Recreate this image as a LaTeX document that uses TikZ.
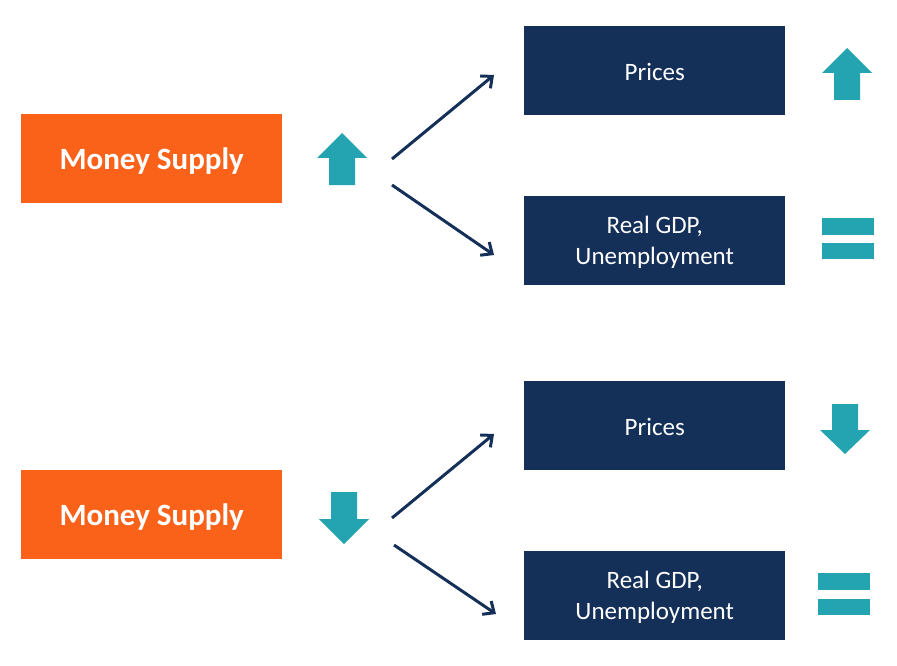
\documentclass[tikz,border=0pt]{standalone}
\usepackage{fontspec}
\setmainfont{Carlito}
\usetikzlibrary{arrows.meta}
\definecolor{ms}{RGB}{250,97,25}
\definecolor{nv}{RGB}{20,48,88}
\definecolor{tl}{RGB}{35,164,176}
\tikzset{
  box/.style={minimum width=261pt, minimum height=89pt, inner sep=0pt, anchor=north west},
  msbox/.style={box, fill=ms},
  nvbox/.style={box, fill=nv},
  mstext/.style={text=white, inner sep=0pt, font=\fontsize{31}{37}\selectfont\bfseries},
  nvtext/.style={text=white, inner sep=0pt, align=center, font=\fontsize{25}{31}\selectfont},
  conn/.style={draw=nv, line width=3pt, -{Straight Barb[length=9pt,width=16pt,line width=3pt]}},
  ind/.style={fill=tl}
}
\begin{document}
\begin{tikzpicture}[x=1pt,y=-1pt]
\useasboundingbox (0,0) rectangle (897,666);
% boxes
\node[msbox] (ms1) at (21,114) {};
\node[msbox] (ms2) at (21,470) {};
\node[nvbox] (p1) at (524,26) {};
\node[nvbox] (g1) at (524,196) {};
\node[nvbox] (p2) at (524,381) {};
\node[nvbox] (g2) at (524,551) {};
\node[mstext] (ms1t) at ([yshift=-2pt]ms1.center) {Money Supply};
\node[mstext] (ms2t) at ([yshift=-2pt]ms2.center) {Money Supply};
\node[nvtext] (p1t) at ([yshift=-1pt]p1.center) {Prices};
\node[nvtext] (g1t) at ([yshift=-2pt]g1.center) {Real GDP,\\Unemployment};
\node[nvtext] (p2t) at ([yshift=-1pt]p2.center) {Prices};
\node[nvtext] (g2t) at ([yshift=-2pt]g2.center) {Real GDP,\\Unemployment};
% connectors
\coordinate (a1s) at (392,159); \coordinate (a1e) at (494,75);
\coordinate (a2s) at (392,185); \coordinate (a2e) at (494,255);
\coordinate (b1s) at (392,518); \coordinate (b1e) at (494,434);
\coordinate (b2s) at (394,545); \coordinate (b2e) at (496,614);
\draw[conn] (a1s) -- (a1e);
\draw[conn] (a2s) -- (a2e);
\draw[conn] (b1s) -- (b1e);
\draw[conn] (b2s) -- (b2e);
% up arrow left top
\fill[ind] (342,133) -- (367,158) -- (355,158) -- (355,185) -- (329,185) -- (329,158) -- (317,158) -- cycle;
% up arrow right top
\fill[ind] (847,48) -- (872,73) -- (860,73) -- (860,100) -- (834,100) -- (834,73) -- (822,73) -- cycle;
% equal top
\fill[ind] (822,218) rectangle (874,235);
\fill[ind] (822,243) rectangle (874,259);
% down arrow left bottom
\fill[ind] (331,492) -- (357,492) -- (357,519) -- (369,519) -- (344,544) -- (319,519) -- (331,519) -- cycle;
% down arrow right bottom
\fill[ind] (832,404) -- (858,404) -- (858,430) -- (870,430) -- (845,454) -- (820,430) -- (832,430) -- cycle;
% equal bottom
\fill[ind] (818,573) rectangle (870,590);
\fill[ind] (818,599) rectangle (870,615);
\end{tikzpicture}
\end{document}
